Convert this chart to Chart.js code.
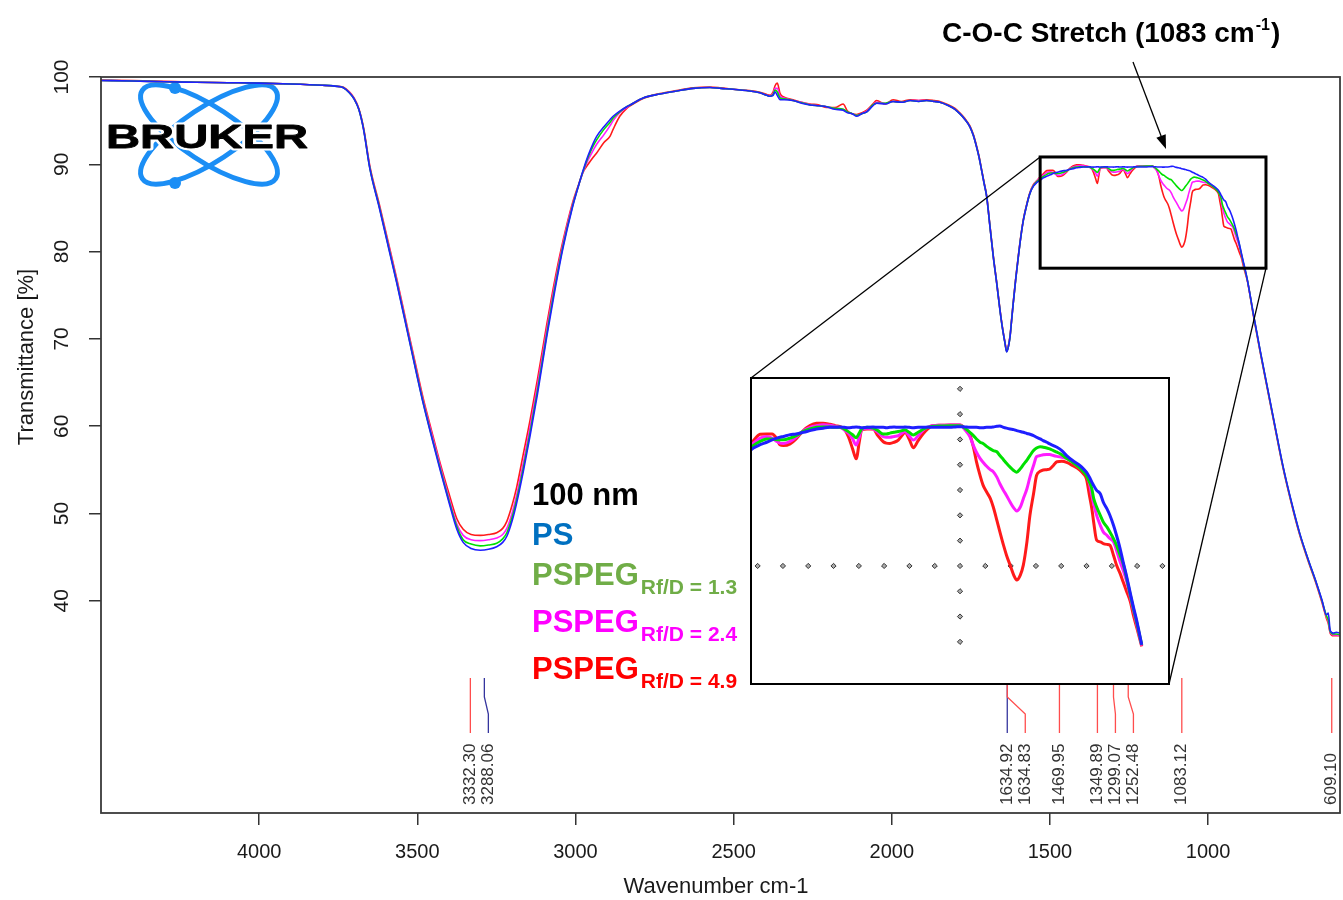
<!DOCTYPE html>
<html><head><meta charset="utf-8">
<script src="https://cdn.jsdelivr.net/npm/chart.js@4.4.1/dist/chart.umd.min.js"></script>
<style>
html,body{margin:0;padding:0;background:#fff;}
#wrap{position:relative;width:1343px;height:900px;overflow:hidden;}
#main{position:absolute;left:0;top:0;}
#insetBox{position:absolute;left:750px;top:377px;width:420px;height:308px;box-sizing:border-box;border:2px solid #000;background:#fff;}
#inset{display:block;}
</style></head>
<body><div id="wrap"><canvas id="main" width="1343" height="900"></canvas>
<div id="insetBox"><canvas id="inset" width="416" height="304"></canvas></div></div>
<script>
// ---------------- DATA ----------------
const wavenumbers = [
4500,4400,4300,4200,4100,4000,3900,3800,3760,3735,
3715,3700,3685,3670,3650,3620,3590,3565,3530,3500,
3482,3455,3428,3400,3375,3355,3330,3301,3275,3249,
3230,3217,3200,3186,3165,3144,3120,3091,3065,3039,
3010,2990,2976,2960,2944,2933,2910,2891,2881,2860,
2838,2827,2786,2733,2680,2628,2575,2540,2502,2450,
2417,2395,2385,2375,2369,2362,2353,2340,2312,2285,
2259,2230,2206,2180,2154,2140,2125,2111,2095,2079,
2060,2048,2020,1996,1970,1942,1915,1890,1865,1848,
1820,1800,1785,1770,1753,1742,1732,1724,1716,1708,
1700,1690,1679,1668,1658,1650,1642,1637,1632,1626,
1621,1616,1608,1600,1592,1584,1573,1563,1552,1542,
1530,1521,1510,1499,1490,1482,1477,1471,1460,1450,
1438,1427,1416,1405,1394,1385,1377,1370,1363,1356,
1350,1345,1341,1332,1322,1314,1305,1300,1294,1287,
1280,1274,1269,1262,1255,1247,1238,1231,1224,1210,
1194,1185,1177,1169,1161,1155,1150,1144,1139,1133,
1127,1122,1116,1111,1105,1100,1094,1088,1083,1077,
1072,1066,1061,1055,1050,1044,1039,1033,1028,1022,
1016,1008,1000,990,978,972,967,962,958,955,
950,944,939,933,928,922,917,911,906,900,
894,889,883,875,857,836,815,790,763,737,
710,684,657,640,626,620,614,604,595,583];

const ps = [
99.6,99.55,99.45,99.4,99.35,99.3,99.2,99.05,98.95,98.8,
98.2,97.5,96.3,94.0,89.5,85.0,80.3,76.4,70.6,65.6,
62.7,58.8,55.0,51.3,48.2,46.7,46.0,45.8,45.9,46.2,
46.7,47.4,49.2,51.2,54.8,58.8,63.7,70.2,75.6,80.5,
85.0,87.6,89.3,91.0,92.4,93.2,94.3,95.1,95.5,96.1,
96.6,96.8,97.6,98.05,98.4,98.7,98.8,98.7,98.6,98.4,
98.2,97.9,97.8,97.9,98.3,97.9,97.4,97.4,97.3,97.0,
96.8,96.7,96.6,96.3,96.2,95.9,95.8,95.5,95.8,96.0,
96.7,97.0,96.9,97.2,97.1,97.3,97.2,97.3,97.2,97.1,
96.7,96.3,95.8,95.2,94.3,93.3,92.0,90.8,89.3,87.8,
86.3,83.0,79.4,76.3,73.3,71.2,69.5,68.5,69.0,70.3,
72.2,74.1,76.9,79.4,81.7,83.6,85.4,86.7,87.5,87.9,
88.2,88.45,88.65,88.8,88.95,89.05,89.1,89.15,89.25,89.3,
89.4,89.5,89.6,89.65,89.7,89.7,89.72,89.7,89.68,89.7,
89.72,89.7,89.68,89.7,89.72,89.7,89.7,89.68,89.7,89.72,
89.7,89.7,89.72,89.7,89.68,89.7,89.7,89.72,89.7,89.7,
89.7,89.72,89.74,89.72,89.7,89.7,89.7,89.68,89.68,89.7,
89.7,89.72,89.76,89.78,89.7,89.65,89.6,89.56,89.5,89.45,
89.4,89.33,89.28,89.2,89.1,89.0,88.9,88.8,88.7,88.6,
88.5,88.3,88.0,87.7,87.4,87.2,87.0,86.7,86.4,86.2,
85.9,85.7,85.2,84.8,84.4,83.8,83.2,82.4,81.6,80.7,
79.7,78.9,78.0,76.6,72.9,68.8,64.9,60.3,55.4,51.4,
47.7,44.8,42.0,40.1,38.4,38.6,36.6,36.3,36.4,36.3];

const pspeg13 = [
99.6,99.55,99.45,99.4,99.35,99.3,99.2,99.05,98.95,98.8,
98.2,97.5,96.3,94.05,89.55,85.1,80.4,76.5,70.7,65.7,
62.8,58.9,55.2,51.5,48.5,47.0,46.5,46.3,46.4,46.6,
47.1,47.8,49.6,51.6,55.2,59.2,64.1,70.5,75.9,80.7,
85.1,87.6,89.2,90.8,92.1,92.8,94.0,94.8,95.3,96.0,
96.6,96.8,97.6,98.05,98.4,98.7,98.8,98.7,98.6,98.4,
98.2,97.9,97.8,98.0,98.5,98.3,97.6,97.5,97.3,97.05,
96.8,96.7,96.6,96.4,96.3,96.0,95.8,95.6,95.8,96.0,
96.8,97.0,97.0,97.2,97.1,97.3,97.2,97.3,97.2,97.1,
96.7,96.3,95.8,95.2,94.3,93.3,92.0,90.8,89.3,87.8,
86.3,83.0,79.4,76.3,73.3,71.2,69.5,68.55,69.0,70.3,
72.2,74.1,76.9,79.4,81.7,83.6,85.4,86.7,87.55,88.0,
88.35,88.6,88.85,89.0,89.0,88.95,88.95,88.95,89.05,89.2,
89.45,89.6,89.7,89.72,89.72,89.7,89.7,89.6,89.44,89.25,
89.07,89.35,89.6,89.7,89.65,89.5,89.3,89.3,89.35,89.4,
89.45,89.5,89.55,89.4,89.24,89.4,89.6,89.7,89.75,89.78,
89.8,89.8,89.8,89.65,89.4,89.2,89.0,88.8,88.73,88.55,
88.4,88.3,88.23,88.0,87.75,87.53,87.3,87.1,87.0,87.2,
87.45,87.73,88.0,88.3,88.45,88.53,88.5,88.45,88.4,88.3,
88.2,88.05,87.83,87.6,87.25,87.03,86.8,86.4,86.0,85.42,
84.9,84.4,84.0,83.7,83.4,83.0,82.6,82.0,81.5,80.6,
79.6,78.8,77.9,76.6,72.85,68.75,64.85,60.25,55.35,51.35,
47.65,44.75,41.95,40.0,38.3,37.8,36.5,36.2,36.2,36.1];

const pspeg24 = [
99.6,99.55,99.45,99.4,99.35,99.3,99.2,99.05,98.95,98.8,
98.25,97.55,96.35,94.1,89.65,85.2,80.6,76.7,70.9,65.9,
63.0,59.2,55.5,51.8,48.8,47.5,47.0,46.9,47.0,47.2,
47.6,48.3,50.1,52.1,55.8,59.8,64.7,71.0,76.3,81.0,
85.3,87.6,89.1,90.5,91.6,92.3,93.4,94.4,95.0,95.9,
96.5,96.8,97.6,98.05,98.4,98.7,98.8,98.7,98.6,98.4,
98.2,97.9,97.85,98.1,98.7,98.7,97.8,97.6,97.3,97.1,
96.85,96.7,96.6,96.4,96.3,96.0,95.8,95.6,95.8,96.1,
96.8,97.1,97.0,97.2,97.1,97.3,97.3,97.3,97.2,97.1,
96.7,96.3,95.8,95.2,94.3,93.3,92.0,90.8,89.3,87.8,
86.3,83.0,79.4,76.3,73.3,71.25,69.55,68.6,69.05,70.35,
72.2,74.1,76.9,79.4,81.7,83.6,85.4,86.75,87.6,88.05,
88.5,88.75,89.05,89.15,89.05,88.85,88.75,88.73,88.85,89.1,
89.5,89.7,89.8,89.85,89.82,89.76,89.7,89.55,89.34,89.0,
88.63,89.1,89.55,89.65,89.6,89.4,89.14,89.1,89.1,89.15,
89.2,89.35,89.45,89.2,88.93,89.2,89.55,89.7,89.8,89.82,
89.84,89.84,89.84,89.55,89.14,88.6,88.2,87.83,87.6,87.35,
87.15,87.03,86.7,86.3,85.9,85.6,85.2,84.85,84.66,84.9,
85.4,86.0,86.7,87.4,87.93,88.0,88.05,88.07,88.07,88.0,
87.95,87.9,87.83,87.6,87.25,87.13,86.9,86.3,85.6,85.1,
84.4,83.8,83.4,83.2,83.0,82.8,82.3,81.6,81.1,80.4,
79.5,78.7,77.8,76.55,72.8,68.7,64.8,60.2,55.3,51.3,
47.6,44.7,41.9,39.95,38.2,37.6,36.4,36.1,36.1,36.0];

const pspeg49 = [
99.65,99.6,99.5,99.4,99.35,99.3,99.2,99.05,98.95,98.85,
98.3,97.6,96.4,94.2,89.8,85.4,80.8,76.9,71.1,66.2,
63.3,59.5,55.8,52.3,49.4,48.2,47.6,47.5,47.6,47.8,
48.3,49.1,51.0,53.0,56.8,60.6,65.4,71.6,76.8,81.3,
85.5,87.7,89.1,90.0,90.8,91.3,92.5,93.2,94.0,95.5,
96.4,96.7,97.55,98.1,98.45,98.75,98.85,98.75,98.6,98.45,
98.25,98.0,97.9,98.3,99.0,99.3,98.1,97.7,97.4,97.1,
96.9,96.8,96.5,96.5,96.9,96.1,95.8,95.7,95.9,96.2,
96.9,97.3,96.9,97.4,97.2,97.4,97.3,97.4,97.3,97.2,
96.8,96.4,95.9,95.3,94.4,93.4,92.1,90.9,89.4,87.9,
86.4,83.1,79.5,76.4,73.4,71.3,69.6,68.65,69.1,70.4,
72.3,74.2,77.0,79.5,81.8,83.7,85.5,86.8,87.7,88.1,
88.6,88.9,89.28,89.3,89.3,89.0,88.65,88.6,88.7,89.0,
89.5,89.8,89.94,89.95,89.88,89.8,89.74,89.6,89.14,88.4,
87.8,88.8,89.54,89.6,89.6,89.2,88.83,88.75,88.73,88.8,
88.93,89.2,89.4,89.0,88.47,88.9,89.34,89.6,89.8,89.82,
89.84,89.84,89.84,89.6,89.24,88.5,87.63,86.8,86.22,85.8,
85.42,84.9,84.1,83.4,82.6,82.0,81.4,80.8,80.5,80.8,
81.4,82.8,84.4,85.7,86.8,87.05,87.13,87.15,87.19,87.4,
87.63,87.65,87.59,87.4,87.13,86.9,86.6,85.6,84.8,84.0,
82.9,82.8,82.7,82.65,82.6,82.0,81.4,80.9,80.4,79.8,
79.2,78.4,77.6,76.5,72.7,68.6,64.7,60.1,55.2,51.2,
47.5,44.6,41.8,39.8,38.0,37.4,36.3,36.0,36.0,36.0];

const xTicks = [4000,3500,3000,2500,2000,1500,1000];
const yTicks = [100,90,80,70,60,50,40];

const peakWavenumbers = [3332.30,3288.06,1634.92,1634.83,1469.95,1349.89,1299.07,1252.48,1083.12,609.10];
const peakLabels = ['3332.30','3288.06','1634.92','1634.83','1469.95','1349.89','1299.07','1252.48','1083.12','609.10'];
const peakSeries = ['red','blue','blue','red','red','red','red','red','red','red'];

const seriesNames = ['PS','PSPEG Rf/D = 1.3','PSPEG Rf/D = 2.4','PSPEG Rf/D = 4.9'];
const lineColors = ['#1f1fff','#00e000','#ff1cff','#ff1a1a'];

// zoom window on main chart and the range shown in the inset
const zoomWindow = {xFrom:1531, xTo:817, yTop:90.84, yBottom:78.1};
const insetRange = {xMax:1523.4, xMin:831.3, yMin:74.3, yMax:92.61, dataEnd:875};
const insetCross = {x:1177.3, y:81.35};

// ---------------- DRAWING ----------------
const FF = '"Liberation Sans", Arial, Helvetica, sans-serif';
const seriesArrays = [ps, pspeg13, pspeg24, pspeg49];

function toPoints(arr, minX){
  const out = [];
  wavenumbers.forEach((w,i)=>{ if(minX===undefined || w>=minX) out.push({x:w,y:arr[i]}); });
  return out;
}

function drawLogo(ctx){
  ctx.save();
  const cx=209, cy=134.5;
  ctx.strokeStyle='#1b8ef5'; ctx.fillStyle='#1b8ef5'; ctx.lineWidth=5;
  [33.5,-33.5].forEach(d=>{
    ctx.beginPath(); ctx.ellipse(cx,cy,80,27,d*Math.PI/180,0,Math.PI*2); ctx.stroke();
  });
  [[175,88],[175,183]].forEach(p=>{ctx.beginPath();ctx.arc(p[0],p[1],6,0,Math.PI*2);ctx.fill();});
  ctx.font='bold 34px '+FF;
  const w = ctx.measureText('BRUKER').width;
  const sx = 202/w;
  ctx.translate(106,148); ctx.scale(sx,1);
  ctx.textBaseline='alphabetic'; ctx.textAlign='left';
  ctx.strokeStyle='#fff'; ctx.lineWidth=5; ctx.lineJoin='round';
  ctx.strokeText('BRUKER',0,0);
  ctx.fillStyle='#000'; ctx.fillText('BRUKER',0,0);
  ctx.lineWidth=0.8; ctx.strokeStyle='#000'; ctx.strokeText('BRUKER',0,0);
  ctx.restore();
}

function drawDecor(chart){
  const ctx=chart.ctx, xs=chart.scales.x, ys=chart.scales.y, a=chart.chartArea;
  ctx.save();
  // frame
  ctx.strokeStyle='#3a3a3a'; ctx.lineWidth=1.8;
  ctx.strokeRect(a.left,a.top,a.right-a.left,a.bottom-a.top);
  // tick labels
  ctx.fillStyle='#1a1a1a'; ctx.font='21px '+FF; ctx.textAlign='center'; ctx.textBaseline='middle';
  yTicks.forEach(v=>{ctx.save();ctx.translate(62,ys.getPixelForValue(v));ctx.rotate(-Math.PI/2);ctx.fillText(String(v),0,0);ctx.restore();});
  ctx.font='20px '+FF;
  xTicks.forEach(v=>{ctx.fillText(String(v),xs.getPixelForValue(v),852);});
  // axis titles
  ctx.font='22px '+FF;
  ctx.fillText('Wavenumber cm-1',716,887);
  ctx.save();ctx.translate(27,357);ctx.rotate(-Math.PI/2);ctx.fillText('Transmittance [%]',0,0);ctx.restore();
  // peak markers
  let prev=-1e9;
  peakWavenumbers.forEach((w,i)=>{
    const tx=xs.getPixelForValue(w);
    const lx=Math.max(tx,prev+18); prev=lx;
    ctx.strokeStyle = peakSeries[i]==='blue' ? '#35359e' : '#ff4d4d';
    ctx.lineWidth=1.3;
    ctx.beginPath();ctx.moveTo(tx,678);ctx.lineTo(tx,697);ctx.lineTo(lx,714);ctx.lineTo(lx,733);ctx.stroke();
    ctx.save();ctx.translate(lx,805);ctx.rotate(-Math.PI/2);
    ctx.textAlign='left';ctx.textBaseline='middle';ctx.fillStyle='#333';ctx.font='17px '+FF;
    ctx.fillText(peakLabels[i],0,0);ctx.restore();
  });
  // legend text block
  const leg=[
    {main:'100 nm',sub:'',color:'#000',y:505},
    {main:'PS',sub:'',color:'#0070C0',y:545},
    {main:'PSPEG',sub:'Rf/D = 1.3',color:'#70AD47',y:585},
    {main:'PSPEG',sub:'Rf/D = 2.4',color:'#FF00FF',y:632},
    {main:'PSPEG',sub:'Rf/D = 4.9',color:'#FF0000',y:679}
  ];
  ctx.textAlign='left';ctx.textBaseline='alphabetic';
  leg.forEach(l=>{
    ctx.fillStyle=l.color; ctx.font='bold 31px '+FF;
    ctx.fillText(l.main,532,l.y);
    if(l.sub){const w=ctx.measureText(l.main).width; ctx.font='bold 21px '+FF; ctx.fillText(l.sub,532+w+2,l.y+9);}
  });
  // zoom window box
  const bx1=xs.getPixelForValue(zoomWindow.xFrom), bx2=xs.getPixelForValue(zoomWindow.xTo);
  const by1=ys.getPixelForValue(zoomWindow.yTop), by2=ys.getPixelForValue(zoomWindow.yBottom);
  ctx.strokeStyle='#000'; ctx.lineWidth=1.3;
  ctx.beginPath();ctx.moveTo(bx1,by1);ctx.lineTo(751,378);ctx.stroke();
  ctx.beginPath();ctx.moveTo(bx2,by2);ctx.lineTo(1169,684);ctx.stroke();
  ctx.lineWidth=3;
  ctx.strokeRect(bx1,by1,bx2-bx1,by2-by1);
  // arrow
  const ax1=1133, ay1=62, ax2=1166, ay2=149;
  const ang=Math.atan2(ay2-ay1,ax2-ax1);
  ctx.lineWidth=1.3;
  ctx.beginPath();ctx.moveTo(ax1,ay1);ctx.lineTo(ax2-12*Math.cos(ang),ay2-12*Math.sin(ang));ctx.stroke();
  ctx.fillStyle='#000';
  ctx.beginPath();ctx.moveTo(ax2,ay2);
  ctx.lineTo(ax2-14*Math.cos(ang)+5*Math.sin(ang),ay2-14*Math.sin(ang)-5*Math.cos(ang));
  ctx.lineTo(ax2-14*Math.cos(ang)-5*Math.sin(ang),ay2-14*Math.sin(ang)+5*Math.cos(ang));
  ctx.closePath();ctx.fill();
  // annotation
  ctx.font='bold 28px '+FF; ctx.fillStyle='#000';
  const t1='C-O-C Stretch (1083 cm';
  ctx.fillText(t1,942,42);
  let x=942+ctx.measureText(t1).width+1;
  ctx.font='bold 16px '+FF; ctx.fillText('-1',x,30);
  x+=ctx.measureText('-1').width+1;
  ctx.font='bold 28px '+FF; ctx.fillText(')',x,42);
  ctx.restore();
}

const mainChart = new Chart(document.getElementById('main'),{
  type:'line',
  data:{datasets: seriesArrays.map((arr,i)=>({
    label:seriesNames[i], data:toPoints(arr), borderColor:lineColors[i], backgroundColor:lineColors[i],
    borderWidth:1.6, pointRadius:0, cubicInterpolationMode:'monotone', fill:false
  }))},
  options:{
    responsive:false, animation:false, devicePixelRatio:1,
    layout:{padding:{left:0,top:77,right:3,bottom:0}},
    plugins:{legend:{display:false},tooltip:{enabled:false}},
    scales:{
      x:{type:'linear',reverse:true,min:583,max:4500,
        afterBuildTicks:s=>{s.ticks=xTicks.map(v=>({value:v}));},
        afterFit:s=>{s.height=87;},
        grid:{drawOnChartArea:false,drawTicks:true,tickLength:12,color:'#333',lineWidth:1.5},
        border:{display:false}, ticks:{display:false}},
      y:{type:'linear',min:15.7,max:100,
        afterBuildTicks:s=>{s.ticks=yTicks.map(v=>({value:v}));},
        afterFit:s=>{s.width=101;},
        grid:{drawOnChartArea:false,drawTicks:true,tickLength:12,color:'#333',lineWidth:1.5},
        border:{display:false}, ticks:{display:false}}
    }
  },
  plugins:[{id:'decor',
    beforeDatasetsDraw(chart){drawLogo(chart.ctx);},
    afterDraw(chart){drawDecor(chart);}
  }]
});

const insetChart = new Chart(document.getElementById('inset'),{
  type:'line',
  data:{datasets: seriesArrays.map((arr,i)=>({
    label:seriesNames[i], data:toPoints(arr,insetRange.dataEnd), borderColor:lineColors[i],
    borderWidth:3, pointRadius:0, cubicInterpolationMode:'monotone', fill:false
  }))},
  options:{
    responsive:false, animation:false, devicePixelRatio:1,
    layout:{padding:0},
    plugins:{legend:{display:false},tooltip:{enabled:false}},
    scales:{
      x:{type:'linear',reverse:true,min:insetRange.xMin,max:insetRange.xMax,display:false},
      y:{type:'linear',min:insetRange.yMin,max:insetRange.yMax,display:false}
    }
  },
  plugins:[{id:'cross',
    beforeDatasetsDraw(chart){
      const ctx=chart.ctx, xs=chart.scales.x, ys=chart.scales.y;
      const cx=xs.getPixelForValue(insetCross.x), cy=ys.getPixelForValue(insetCross.y);
      const step=25.3;
      const pts=[];
      for(let k=-7;k<=3;k++) pts.push([cx,cy+k*step]);
      for(let k=-8;k<=8;k++) if(k!==0) pts.push([cx+k*step,cy]);
      ctx.save(); ctx.strokeStyle='#333'; ctx.fillStyle='#aaa'; ctx.lineWidth=1;
      pts.forEach(p=>{ctx.beginPath();ctx.moveTo(p[0],p[1]-2.6);ctx.lineTo(p[0]+2.6,p[1]);ctx.lineTo(p[0],p[1]+2.6);ctx.lineTo(p[0]-2.6,p[1]);ctx.closePath();ctx.fill();ctx.stroke();});
      ctx.restore();
    }
  }]
});
</script>
</body></html>
